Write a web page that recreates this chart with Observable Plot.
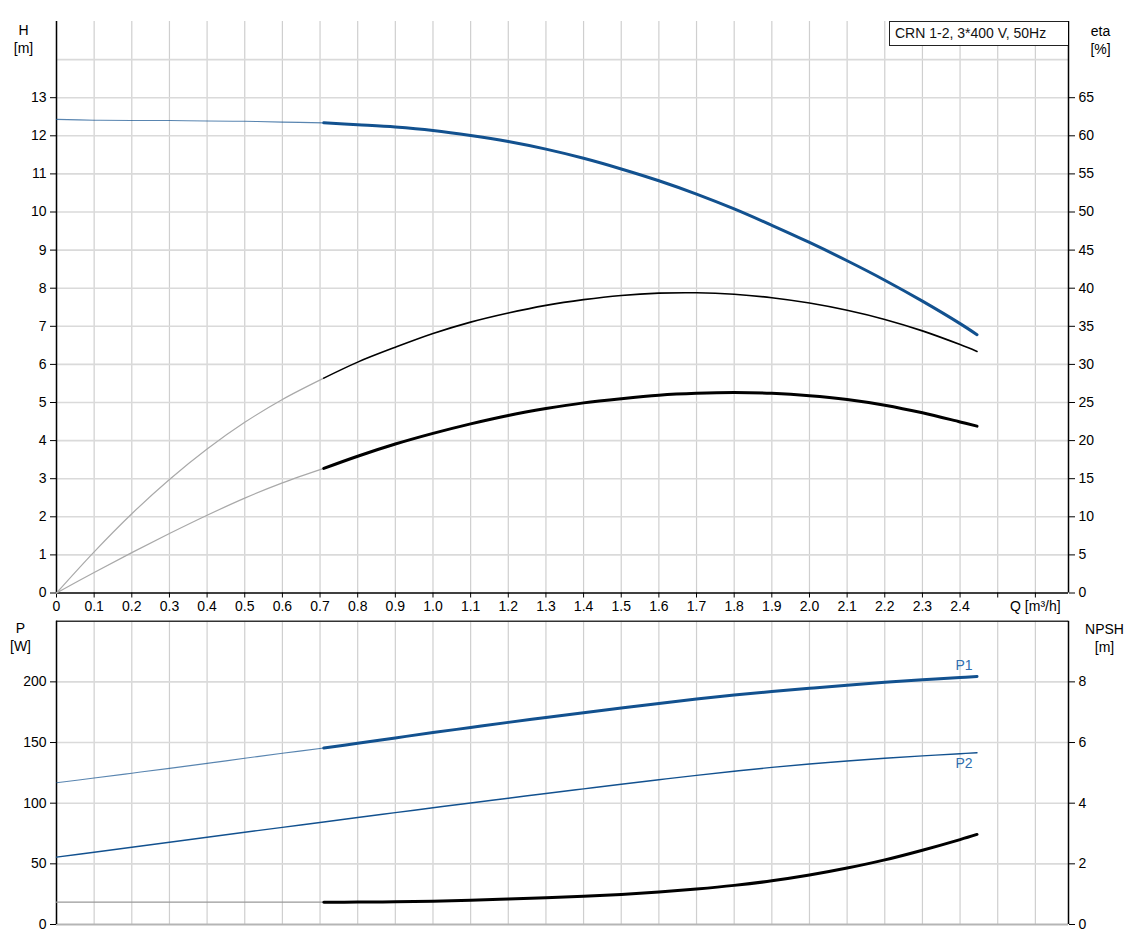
<!DOCTYPE html>
<html>
<head>
<meta charset="utf-8">
<script src="https://cdn.jsdelivr.net/npm/d3@7"></script>
<script src="https://cdn.jsdelivr.net/npm/@observablehq/plot@0.6"></script>
<style>
  html, body { margin: 0; padding: 0; background: #fff; }
  #wrap { position: relative; width: 1131px; height: 941px; overflow: hidden; font-family: "Liberation Sans", Arial, sans-serif; }
  #wrap svg { display: block; }
  #titlebox { position: absolute; left: 889px; top: 21px; width: 173px; height: 23px; border: 1px solid #222; border-right: none; background: #fff;
    font-size: 14px; line-height: 23px; padding-left: 5px; color: #111; white-space: nowrap; }
</style>
</head>
<body>
<div id="wrap"><div id="titlebox">CRN 1-2, 3*400 V, 50Hz</div></div>
<script>
// ---- data ----
const Q_THIN = [0, 0.1, 0.2, 0.3, 0.4, 0.5, 0.6, 0.71];
const Q_MAIN = [0.71, 0.8, 0.9, 1.0, 1.1, 1.2, 1.3, 1.4, 1.5, 1.6, 1.7, 1.8, 1.9, 2.0, 2.1, 2.2, 2.3, 2.4, 2.445];
const Q_ALL = [0, 0.1, 0.2, 0.3, 0.4, 0.5, 0.6, 0.71, 0.8, 0.9, 1.0, 1.1, 1.2, 1.3, 1.4, 1.5, 1.6, 1.7, 1.8, 1.9, 2.0, 2.1, 2.2, 2.3, 2.4, 2.445];

// Head H [m]
const H_THIN = [12.43, 12.41, 12.40, 12.40, 12.39, 12.38, 12.36, 12.34];
const H_MAIN = [12.34, 12.29, 12.23, 12.14, 12.01, 11.85, 11.65, 11.41, 11.13, 10.82, 10.47, 10.08, 9.65, 9.20, 8.72, 8.21, 7.66, 7.07, 6.78];

// Efficiency eta [%] (upper curve, thin black)
const ETA1_THIN = [0, 5.4, 10.4, 14.9, 18.9, 22.4, 25.4, 28.2];
const ETA1_MAIN = [28.2, 30.3, 32.25, 34.05, 35.55, 36.75, 37.75, 38.5, 39.05, 39.35, 39.4, 39.2, 38.75, 38.05, 37.1, 35.9, 34.4, 32.6, 31.7];
// Efficiency eta [%] (lower curve, thick black)
const ETA2_THIN = [0, 2.7, 5.3, 7.8, 10.2, 12.45, 14.45, 16.35];
const ETA2_MAIN = [16.35, 17.95, 19.55, 20.95, 22.2, 23.3, 24.2, 24.95, 25.5, 25.95, 26.2, 26.3, 26.2, 25.9, 25.4, 24.65, 23.65, 22.45, 21.9];

// Power P1 [W]
const P1_THIN = [116.8, 120.7, 124.7, 128.7, 132.8, 137.0, 141.1, 145.5];
const P1_MAIN = [145.5, 149.4, 153.8, 158.2, 162.4, 166.6, 170.6, 174.6, 178.4, 182.2, 185.8, 189.1, 192.0, 194.7, 197.3, 199.6, 201.7, 203.6, 204.5];
// Power P2 [W]
const P2_ALL = [55.5, 59.6, 63.7, 67.8, 71.9, 76.0, 80.1, 84.5, 88.2, 92.2, 96.2, 100.2, 104.1, 108.0, 111.8, 115.6, 119.3, 122.9, 126.3, 129.5, 132.3, 134.8, 137.0, 139.0, 140.8, 141.6];

// NPSH [m]
const NPSH_THIN = [0.735, 0.735, 0.735, 0.735, 0.735, 0.735, 0.735, 0.735];
const NPSH_MAIN = [0.735, 0.74, 0.75, 0.77, 0.80, 0.84, 0.88, 0.93, 0.99, 1.07, 1.17, 1.29, 1.44, 1.63, 1.86, 2.13, 2.45, 2.80, 2.97];

// ticks
const Q_TICKS = [0, 0.1, 0.2, 0.3, 0.4, 0.5, 0.6, 0.7, 0.8, 0.9, 1.0, 1.1, 1.2, 1.3, 1.4, 1.5, 1.6, 1.7, 1.8, 1.9, 2.0, 2.1, 2.2, 2.3, 2.4, 2.5, 2.6];
const H_TICKS = [0, 1, 2, 3, 4, 5, 6, 7, 8, 9, 10, 11, 12, 13];
const H_GRID = [1, 2, 3, 4, 5, 6, 7, 8, 9, 10, 11, 12, 13, 14];
const ETA_TICKS = [0, 5, 10, 15, 20, 25, 30, 35, 40, 45, 50, 55, 60, 65];
const P_TICKS = [0, 50, 100, 150, 200];
const P_GRID = [50, 100, 150, 200];
const NPSH_TICKS = [0, 2, 4, 6, 8];

// ---- helpers ----
const pts = (qs, vs) => qs.map((q, i) => ({q, v: vs[i]}));
const Q_MAX = 2.688;
const BLUE = "#12518f";
const GRAY = "#a9a9a9";
const font = {fontFamily: "'Liberation Sans', Arial, sans-serif", fontSize: "14px", color: "#000", background: "transparent", overflow: "visible"};
const qFmt = d => d === 0 ? "0" : d === 2.5 ? "" : d === 2.6 ? "Q [m³/h]" : d.toFixed(1);
const CURVE = "catmull-rom";

// ---- top panel: H and eta ----
const topChart = Plot.plot({
  width: 1131, height: 615,
  marginLeft: 56, marginRight: 63, marginTop: 21, marginBottom: 22.5,
  x: {domain: [0, Q_MAX]},
  y: {domain: [0, 15]},
  style: font,
  marks: [
    Plot.gridX(Q_TICKS, {stroke: "#cfcfcf", strokeOpacity: 1, strokeWidth: 1.2}),
    Plot.gridY(H_GRID, {stroke: "#dadada", strokeOpacity: 1, strokeWidth: 1.6}),
    Plot.axisX(Q_TICKS, {tickFormat: qFmt, tickSize: 5, tickPadding: 3, label: null, stroke: "#000"}),
    Plot.axisY(H_TICKS, {tickSize: 6, tickPadding: 4, label: null, stroke: "#000"}),
    Plot.axisY(ETA_TICKS.map(e => e / 5), {anchor: "right", tickFormat: d => Math.round(d * 5), tickSize: 6, tickPadding: 4, label: null, stroke: "#000"}),
    Plot.ruleX([0, Q_MAX], {stroke: "#000", strokeWidth: 1.5}),
    Plot.ruleY([0], {stroke: "#000", strokeWidth: 1.5}),
    // eta curves (converted to the H scale: 5 % per metre)
    Plot.line(pts(Q_THIN, ETA1_THIN), {x: "q", y: d => d.v / 5, stroke: GRAY, strokeWidth: 1.2, curve: CURVE}),
    Plot.line(pts(Q_THIN, ETA2_THIN), {x: "q", y: d => d.v / 5, stroke: GRAY, strokeWidth: 1.2, curve: CURVE}),
    Plot.line(pts(Q_MAIN, ETA1_MAIN), {x: "q", y: d => d.v / 5, stroke: "#000", strokeWidth: 1.6, curve: CURVE}),
    Plot.line(pts(Q_MAIN, ETA2_MAIN), {x: "q", y: d => d.v / 5, stroke: "#000", strokeWidth: 3, curve: CURVE}),
    // H curve
    Plot.line(pts(Q_THIN, H_THIN), {x: "q", y: "v", stroke: BLUE, strokeWidth: 1.1, strokeOpacity: 0.7, curve: CURVE}),
    Plot.line(pts(Q_MAIN, H_MAIN), {x: "q", y: "v", stroke: BLUE, strokeWidth: 3, curve: CURVE}),
    // axis titles
    Plot.text(["H\n[m]"], {text: d => d, frameAnchor: "top-left", dx: -33, dy: 17, lineAnchor: "middle", textAnchor: "middle", lineHeight: 1.25, fill: "#000", fontSize: 14}),
    Plot.text(["eta\n[%]"], {text: d => d, frameAnchor: "top-right", dx: 32, dy: 18, lineAnchor: "middle", textAnchor: "middle", lineHeight: 1.25, fill: "#000", fontSize: 14})
  ]
});

// ---- bottom panel: P and NPSH ----
const P1_LABEL = [{q: Q_MAIN[17], v: P1_MAIN[17]}];
const P2_LABEL = [{q: Q_ALL[24], v: P2_ALL[24]}];
const bottomChart = Plot.plot({
  width: 1131, height: 326,
  marginLeft: 56, marginRight: 63, marginTop: 5.7, marginBottom: 17,
  x: {domain: [0, Q_MAX], axis: null},
  y: {domain: [0, 250]},
  style: font,
  marks: [
    Plot.gridX(Q_TICKS, {stroke: "#cfcfcf", strokeOpacity: 1, strokeWidth: 1.2}),
    Plot.gridY(P_GRID, {stroke: "#dadada", strokeOpacity: 1, strokeWidth: 1.6}),
    Plot.axisY(P_TICKS, {tickSize: 6, tickPadding: 4, label: null, stroke: "#000"}),
    Plot.axisY(NPSH_TICKS.map(n => n * 25), {anchor: "right", tickFormat: d => Math.round(d / 25), tickSize: 6, tickPadding: 4, label: null, stroke: "#000"}),
    Plot.ruleY([0], {stroke: "#b5b5b5", strokeWidth: 2.2}),
    Plot.ruleY([250], {stroke: "#333", strokeWidth: 1.5}),
    Plot.ruleX([0, Q_MAX], {stroke: "#000", strokeWidth: 1.5}),
    // NPSH (converted to the P scale: 25 W per metre)
    Plot.line(pts(Q_THIN, NPSH_THIN), {x: "q", y: d => d.v * 25, stroke: "#999", strokeWidth: 1.2, curve: CURVE}),
    Plot.line(pts(Q_MAIN, NPSH_MAIN), {x: "q", y: d => d.v * 25, stroke: "#000", strokeWidth: 3, curve: CURVE}),
    // P2
    Plot.line(pts(Q_ALL, P2_ALL), {x: "q", y: "v", stroke: BLUE, strokeWidth: 1.4, curve: CURVE}),
    // P1
    Plot.line(pts(Q_THIN, P1_THIN), {x: "q", y: "v", stroke: BLUE, strokeWidth: 1.1, strokeOpacity: 0.7, curve: CURVE}),
    Plot.line(pts(Q_MAIN, P1_MAIN), {x: "q", y: "v", stroke: BLUE, strokeWidth: 3, curve: CURVE}),
    Plot.text(P1_LABEL, {x: "q", y: "v", text: () => "P1", dx: 4, dy: -12, fill: "#2f6eae", fontSize: 14}),
    Plot.text(P2_LABEL, {x: "q", y: "v", text: () => "P2", dx: 4, dy: 10, fill: "#2f6eae", fontSize: 14}),
    // axis titles
    Plot.text(["P\n[W]"], {text: d => d, frameAnchor: "top-left", dx: -36, dy: 15, lineAnchor: "middle", textAnchor: "middle", lineHeight: 1.25, fill: "#000", fontSize: 14}),
    Plot.text(["NPSH\n[m]"], {text: d => d, frameAnchor: "top-right", dx: 36, dy: 16, lineAnchor: "middle", textAnchor: "middle", lineHeight: 1.25, fill: "#000", fontSize: 14})
  ]
});

const wrap = document.getElementById("wrap");
wrap.insertBefore(bottomChart, wrap.firstChild);
wrap.insertBefore(topChart, wrap.firstChild);
</script>
</body>
</html>
